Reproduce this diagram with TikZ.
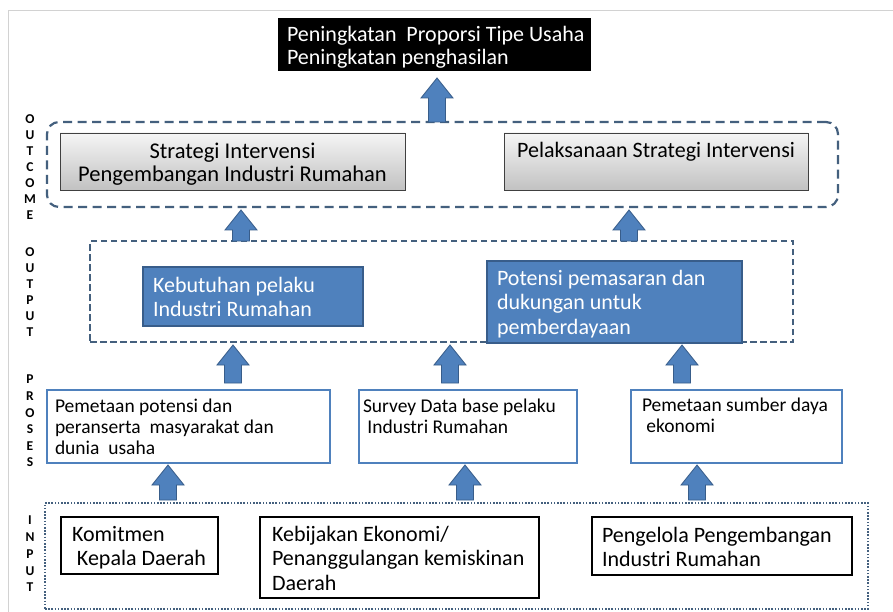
\documentclass[tikz,border=0pt]{standalone}
\usepackage{fontspec}
\setmainfont{Carlito}
\usetikzlibrary{calc}
\definecolor{officeblue}{RGB}{79,129,189}
\definecolor{officeblueD}{RGB}{56,93,138}
\definecolor{dashcol}{RGB}{68,96,126}
\definecolor{framecol}{RGB}{210,210,210}
\newcommand{\LL}[3][3pt]{\raisebox{-#1}[\height][\depth]{\makebox[#2][l]{\begin{tabular}{@{}l@{}}#3\end{tabular}}}}
\newcommand{\CC}[2][3.5pt]{\raisebox{-#1}[\height][\depth]{\begin{tabular}{@{}c@{}}#2\end{tabular}}}
\tikzset{
 basebox/.style={rectangle, anchor=north west, inner ysep=0pt, outer sep=0pt},
 goalbox/.style={basebox, fill=black, draw=black, text=white, font=\fontsize{22}{23}\selectfont},
 graybox/.style={basebox, draw=black!75, line width=0.9pt, top color=gray!8, bottom color=gray!48, font=\fontsize{22.5}{23}\selectfont, inner xsep=0pt},
 bluebox/.style={basebox, draw=officeblueD, line width=1.2pt, fill=officeblue, text=white, font=\fontsize{22}{24.5}\selectfont},
 procbox/.style={basebox, draw=officeblue, line width=1.5pt, fill=white, font=\fontsize{19.5}{21}\selectfont},
 inbox/.style={basebox, draw=black, line width=1.8pt, fill=white, font=\fontsize{22}{24.5}\selectfont},
 outcomeframe/.style={basebox, draw=dashcol, line width=2.2pt, dash pattern=on 9pt off 5.5pt, rounded corners=12pt, inner sep=0pt},
 outputframe/.style={basebox, draw=dashcol, line width=1.7pt, dash pattern=on 6.5pt off 3.5pt, inner sep=0pt},
 inputframe/.style={basebox, draw=dashcol, line width=1.7pt, dash pattern=on 1.6pt off 1.6pt, inner sep=0pt},
 layerlbl/.style={anchor=north, inner sep=0pt, align=center, font=\bfseries\fontsize{13.5}{16}\selectfont},
 barrow/.style={draw=officeblueD, fill=officeblue, line width=0.8pt, line join=miter,
   to path={let \p1=(\tikztostart), \p2=(\tikztotarget) in
     (\x1-8.5pt,\y1) -- (\x1-8.5pt,\y2-20pt) -- (\x1-16pt,\y2-20pt) -- (\x1,\y2)
     -- (\x1+16pt,\y2-20pt) -- (\x1+8.5pt,\y2-20pt) -- (\x1+8.5pt,\y1) -- cycle}},
}
\begin{document}
\begin{tikzpicture}[x=1pt,y=-1pt]
\useasboundingbox (0,0) rectangle (893,612);
\fill[white] (0,0) rectangle (893,612);
\draw[framecol, line width=1pt] (8,612) -- (8,11) -- (893,11);

% layer labels
\node[layerlbl] (lo) at (30,114) {O\\U\\T\\C\\O\\M\\E};
\node[layerlbl] (lp) at (30,247) {O\\U\\T\\P\\U\\T};
\node[layerlbl, font=\bfseries\fontsize{13.5}{16.6}\selectfont] (lpr) at (30,375) {P\\R\\O\\S\\E\\S};
\node[layerlbl, font=\bfseries\fontsize{13.5}{16.7}\selectfont] (li) at (30,516) {I\\N\\P\\U\\T};

% frames
\node[outcomeframe, minimum width=791, minimum height=85] (outcomebox) at (47,122) {};
\node[outputframe, minimum width=703, minimum height=101] (outputbox) at (90,241) {};
\node[inputframe, minimum width=823, minimum height=106] (inputbox) at (45,503) {};

% goal
\node[goalbox, minimum width=312, minimum height=52, inner xsep=9pt] (goal) at (278,18)
  {\LL[4.5pt]{294pt}{Peningkatan~ Proporsi Tipe Usaha\\Peningkatan penghasilan}};

% outcome
\node[graybox, minimum width=345, minimum height=57] (strat) at (60,133)
  {\CC{Strategi Intervensi\\Pengembangan Industri Rumahan}};
\node[graybox, minimum width=304, minimum height=57, font=\fontsize{22}{23}\selectfont] (pelak) at (504,133)
  {\CC[2.5pt]{Pelaksanaan Strategi Intervensi\\~}};

% output
\node[bluebox, minimum width=220, minimum height=59, inner xsep=10pt] (need) at (143,267)
  {\LL{200pt}{Kebutuhan pelaku\\Industri Rumahan}};
\node[bluebox, minimum width=255, minimum height=82, inner xsep=10pt] (potensi) at (487,261)
  {\LL{235pt}{Potensi pemasaran dan\\dukungan untuk\\pemberdayaan}};

% proses
\node[procbox, minimum width=283, minimum height=73, inner xsep=8pt] (p1) at (47,390)
  {\LL{267pt}{Pemetaan potensi dan\\peranserta~ masyarakat dan\\dunia~ usaha}};
\node[procbox, minimum width=218, minimum height=73, inner xsep=4pt] (p2) at (359,390)
  {\LL{210pt}{Survey Data base pelaku\\~Industri Rumahan\\~}};
\node[procbox, minimum width=211, minimum height=73, inner xsep=11pt] (p3) at (631,390)
  {\LL[2pt]{189pt}{Pemetaan sumber daya\\~ekonomi\\~}};

% input
\node[inbox, minimum width=157, minimum height=57, inner xsep=11pt] (in1) at (61,517)
  {\LL{135pt}{Komitmen\\~Kepala Daerah}};
\node[inbox, minimum width=279, minimum height=81, inner xsep=12pt] (in2) at (260,517)
  {\LL[3.5pt]{255pt}{Kebijakan Ekonomi/\\Penanggulangan kemiskinan\\Daerah}};
\node[inbox, minimum width=260, minimum height=58, inner xsep=10pt] (in3) at (592,517)
  {\LL[3.5pt]{240pt}{Pengelola Pengembangan\\Industri Rumahan}};

% arrows
\coordinate (c0) at ($(goal.south)+(3,0)$);
\draw[barrow] (c0 |- outcomebox.north) to ($(c0)+(0,8)$);
\coordinate (c1) at ($(strat.south)+(8.5,0)$);
\draw[barrow] (c1 |- outputbox.north) to ($(c1 |- outcomebox.south)+(0,3)$);
\coordinate (c2) at ($(pelak.south)+(-27,0)$);
\draw[barrow] (c2 |- outputbox.north) to ($(c2 |- outcomebox.south)+(0,3)$);
\coordinate (c3) at ($(p1.north)+(44.5,0)$);
\draw[barrow] ($(c3)+(0,-7)$) to ($(c3 |- outputbox.south)+(0,3)$);
\coordinate (c4) at ($(p2.north)+(-18,0)$);
\draw[barrow] ($(c4)+(0,-7)$) to ($(c4 |- outputbox.south)+(0,3)$);
\coordinate (c5) at ($(p3.north)+(-54.5,0)$);
\draw[barrow] ($(c5)+(0,-7)$) to ($(c5 |- outputbox.south)+(0,3)$);
\coordinate (c6) at ($(p1.south)+(-20.5,0)$);
\draw[barrow] ($(c6 |- inputbox.north)+(0,-3)$) to ($(c6)+(0,2)$);
\coordinate (c7) at ($(p2.south)+(-3,0)$);
\draw[barrow] ($(c7 |- inputbox.north)+(0,-3)$) to ($(c7)+(0,2)$);
\coordinate (c8) at ($(p3.south)+(-39.5,0)$);
\draw[barrow] ($(c8 |- inputbox.north)+(0,-3)$) to ($(c8)+(0,2)$);
\end{tikzpicture}
\end{document}
